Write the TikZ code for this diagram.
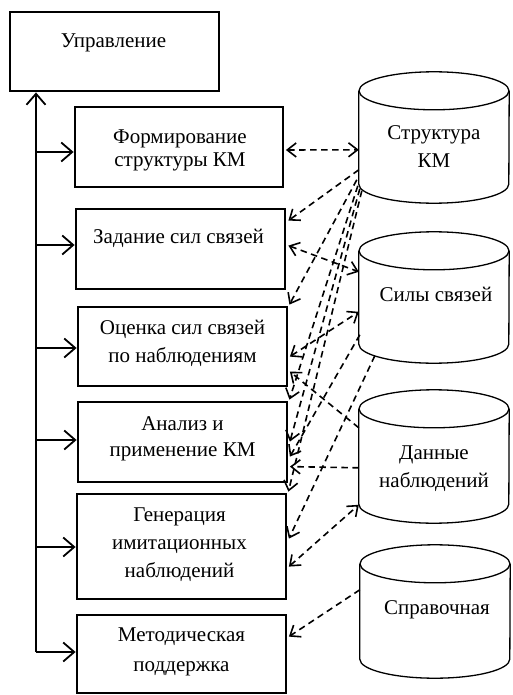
\documentclass[tikz,border=0pt]{standalone}
\usepackage{fontspec}
\setmainfont{Liberation Serif}
\usetikzlibrary{arrows.meta,calc}

% outline of a database drum drawn round a named (invisible) node
\newcommand\drawdb[1]{%
  \draw[dbline] ($(#1.north west)+(0,19)$) -- ($(#1.south west)+(0,-19)$)
     arc[start angle=180,end angle=360,x radius=75pt,y radius=19pt]
     -- ($(#1.north east)+(0,19)$);
  \draw[dbline] ($(#1.north)+(0,19)$) ellipse[x radius=75pt,y radius=19pt];
}

\begin{document}
\begin{tikzpicture}[x=1pt,y=-1pt,
  box/.style={draw, line width=2.8pt, fill=white, rectangle, inner sep=0pt},
  dbnode/.style={rectangle, inner sep=0pt, minimum width=150pt},
  dbline/.style={line width=1.3pt},
  txt/.style={font=\fontsize{21}{28}\selectfont, align=center, inner sep=0pt},
  sbarb/.tip={Straight Barb[length=11pt,width=19pt]},
  dbarb/.tip={Straight Barb[length=9pt,width=14pt]},
  flow/.style={line width=1.8pt, -sbarb},
  data/.style={line width=1.6pt, dash pattern=on 6.5pt off 4.5pt, -dbarb},
  data2/.style={line width=1.6pt, dash pattern=on 6.5pt off 4.5pt, dbarb-dbarb},
]
\fill[white] (0,0) rectangle (512,695);
\useasboundingbox (0,0) rectangle (512,695);

% process boxes
\node[box, minimum width=209pt, minimum height=79pt] (U)  at (114.5,51.5) {};
\node[box, minimum width=208pt, minimum height=80pt] (P1) at (179,147) {};
\node[box, minimum width=209pt, minimum height=80pt] (P2) at (180.5,249) {};
\node[box, minimum width=209pt, minimum height=79pt] (P3) at (182.5,346.5) {};
\node[box, minimum width=209pt, minimum height=80pt] (P4) at (182.5,442) {};
\node[box, minimum width=209pt, minimum height=105pt] (P5) at (181.5,546.5) {};
\node[box, minimum width=209pt, minimum height=78pt] (P6) at (181.5,654) {};

% box captions
\node[txt] (Ut)  at ($(U.center)+(-1,-8.5)$) {Управление};
\node[txt] (P1t) at ($(P1.center)+(1,3.5)$) {Формирование\\[-5pt]структуры КМ};
\node[txt] (P2t) at ($(P2.center)+(-2,-11)$) {Задание сил связей};
\node[txt] (P3t) at ($(P3.center)+(0,-3.5)$) {Оценка сил связей\\по наблюдениям};
\node[txt] (P4t) at ($(P4.center)+(0,-3)$) {Анализ и\\[-2pt]применение КМ};
\node[txt] (P5t) at ($(P5.center)+(-2,-1.5)$) {Генерация\\имитационных\\наблюдений};
\node[txt] (P6t) at ($(P6.center)+(0,-2)$) {Методическая\\[2pt]поддержка};

% databases
\node[dbnode, minimum height=131pt] (S) at (434,137.5) {};
\node[dbnode, minimum height=131pt] (F) at (434,297.5) {};
\node[dbnode, minimum height=133pt] (D) at (434,456.5) {};
\node[dbnode, minimum height=133pt] (R) at (435,611.5) {};
\drawdb{S}
\drawdb{F}
\drawdb{D}
\drawdb{R}
\node[txt] (St) at ($(S.center)+(0,9.5)$) {Структура\\КМ};
\node[txt] (Ft) at ($(F.center)+(2,-3.5)$) {Силы связей};
\node[txt] (Dt) at ($(D.center)+(0,12.5)$) {Данные\\наблюдений};
\node[txt] (Rt) at ($(R.center)+(2,-1.5)$) {Справочная};

% control bus
\coordinate (bus) at (36,652);
\draw[flow] (bus) -- (bus |- U.south);
\draw[flow] ($(bus |- P1.west)+(0,5)$) -- ($(P1.west)+(0,5)$);
\draw[flow] ($(bus |- P2.west)+(0,-4)$) -- ($(P2.west)+(0,-4)$);
\draw[flow] ($(bus |- P3.west)+(0,1.5)$) -- ($(P3.west)+(0,1.5)$);
\draw[flow] ($(bus |- P4.west)+(0,-2)$) -- ($(P4.west)+(0,-2)$);
\draw[flow] ($(bus |- P5.west)+(0,0.5)$) -- ($(P5.west)+(0,0.5)$);
\draw[flow] (bus) -- ($(P6.west)+(0,-2)$);

% data flows
\draw[data2] ($(P1.east)+(1.5,3)$) -- ($(S.north west)+(0,78)$);
\draw[data] ($(S.north west)+(0,98)$) -- ($(P2.north east)+(2,13)$);
\draw[data] ($(S.north west)+(-2,108)$) -- ($(P3.north east)+(1,-1)$);
\draw[data2] ($(P2.north east)+(2,38)$) -- ($(F.north west)+(0,40)$);
\draw[data2] ($(P3.north east)+(1.5,51)$) -- ($(F.north west)+(0,80)$);
\draw[data] ($(D.north west)+(0,38)$) -- ($(P3.north east)+(1.5,66)$);
\draw[data] ($(S.north west)+(-1,114)$) -- ($(P4.north east)+(1,-1)$);
\draw[data] ($(S.north west)+(1,117)$) -- ($(P4.north east)+(1.5,41)$);
\draw[data] ($(F.north west)+(1,103)$) -- ($(P4.north east)+(1.5,56)$);
\draw[data] ($(D.north west)+(0,78)$) -- ($(P4.north east)+(1.5,66)$);
\draw[data] ($(S.north west)+(3,119)$) -- ($(P5.north east)+(1,-1)$);
\draw[data] ($(F.north west)+(16,124)$) -- ($(P5.north east)+(1.5,46)$);
\draw[data2] ($(P5.north east)+(1.5,74)$) -- ($(D.north west)+(0,115)$);
\draw[data] ($(R.north west)+(0,45)$) -- ($(P6.north east)+(1.5,23)$);
\end{tikzpicture}
\end{document}
